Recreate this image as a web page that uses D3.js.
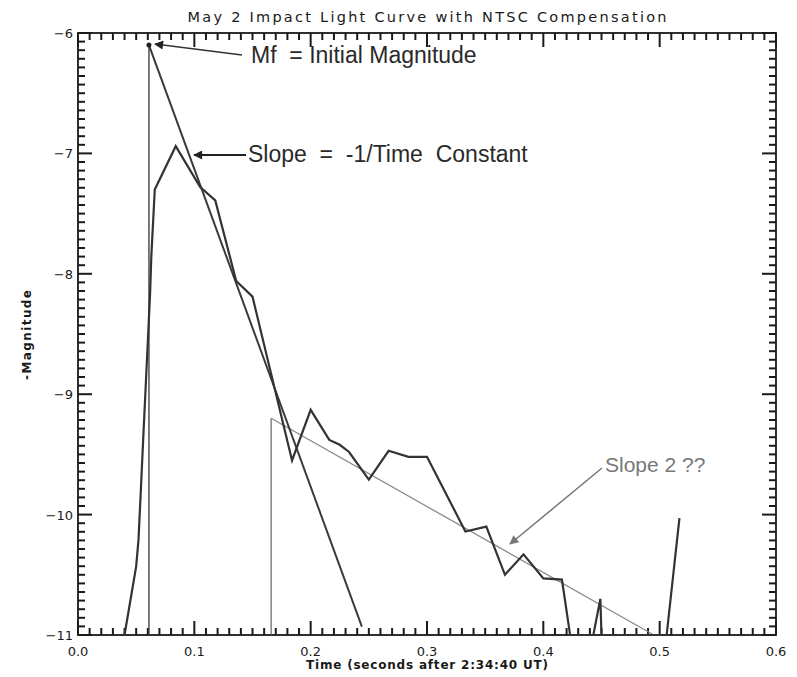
<!DOCTYPE html>
<html>
<head>
<meta charset="utf-8">
<script src="https://d3js.org/d3.v7.min.js"></script>
<style>
  body { margin: 0; background: #fff; }
  text { white-space: pre; }
</style>
</head>
<body>
<div id="chart"></div>
<script>
// light curve (time in s, -magnitude)
const times = [0.040, 0.050, 0.052, 0.054, 0.056, 0.062, 0.063, 0.066, 0.084, 0.105, 0.118, 0.136, 0.150,
  0.184, 0.200, 0.216, 0.225, 0.233, 0.250, 0.267, 0.284, 0.300, 0.333, 0.351, 0.367, 0.383, 0.400,
  0.416, 0.423, 0.443, 0.449, 0.450, 0.506, 0.517];
const mags = [-11.0, -10.43, -10.21, -9.80, -9.38, -8.16, -7.86, -7.30, -6.94, -7.28, -7.39, -8.06, -8.19,
  -9.55, -9.13, -9.38, -9.42, -9.48, -9.71, -9.47, -9.52, -9.52, -10.14, -10.10, -10.50, -10.33, -10.53,
  -10.54, -11.0, -11.0, -10.70, -11.0, -11.0, -10.03];

// first fit: peak Mf and the decay line
const fit1Times = [0.061, 0.244];
const fit1Mags = [-6.10, -10.93];
// second fit
const fit2Times = [0.166, 0.495];
const fit2Mags = [-9.20, -11.0];

const xTicks = [0.0, 0.1, 0.2, 0.3, 0.4, 0.5, 0.6];
const yTicks = [-6, -7, -8, -9, -10, -11];

const title = "May 2 Impact Light Curve with NTSC Compensation";
const xTitle = "Time (seconds after 2:34:40 UT)";
const yTitle = "-Magnitude";

const W = 797, H = 677;
const m = { top: 33, right: 21, bottom: 42, left: 78 };

const svg = d3.select("#chart").append("svg")
  .attr("width", W)
  .attr("height", H);

const x = d3.scaleLinear().domain([0, 0.6]).range([m.left, W - m.right]);
const y = d3.scaleLinear().domain([-11, -6]).range([H - m.bottom, m.top]);

const ink = "#1a1a1a";
const tickFont = "DejaVu Sans, sans-serif";

// frame
svg.append("rect")
  .attr("x", x(0)).attr("y", y(-6))
  .attr("width", x(0.6) - x(0)).attr("height", y(-11) - y(-6))
  .attr("fill", "none").attr("stroke", ink).attr("stroke-width", 1.8);

// minor tick positions
const xMinor = [];
for (let i = 0; i <= 60; i++) xMinor.push(i / 100);
const yMinor = [];
for (let i = 0; i <= 70; i++) yMinor.push(-6 - i / 14);
const isMajorX = d => Math.abs(d * 10 - Math.round(d * 10)) < 1e-6;
const isMajorY = d => Math.abs(d - Math.round(d)) < 1e-6;
const tlen = (major) => major ? 14 : 7;

// inward ticks on all four sides
const tg = svg.append("g");
function tick(x1, y1, x2, y2) {
  tg.append("line")
    .attr("x1", x1).attr("y1", y1).attr("x2", x2).attr("y2", y2)
    .style("stroke", ink).style("stroke-width", "2px");
}
xMinor.forEach(d => {
  const L = tlen(isMajorX(d));
  tick(x(d), y(-11), x(d), y(-11) - L);
  tick(x(d), y(-6), x(d), y(-6) + L);
});
yMinor.forEach(d => {
  const L = tlen(isMajorY(d));
  tick(x(0), y(d), x(0) + L, y(d));
  tick(x(0.6), y(d), x(0.6) - L, y(d));
});

// tick labels
svg.append("g").selectAll("text").data(xTicks).join("text")
  .attr("x", d => x(d)).attr("y", 656)
  .attr("text-anchor", "middle")
  .attr("font-family", tickFont).attr("font-size", 13).attr("fill", ink)
  .text(d3.format(".1f"));
svg.append("g").selectAll("text").data(yTicks).join("text")
  .attr("x", x(0) - 5).attr("y", d => y(d) + 5)
  .attr("text-anchor", "end")
  .attr("font-family", tickFont).attr("font-size", 13).attr("fill", ink)
  .text(d3.format("d"));

const line = d3.line().x(d => x(d[0])).y(d => y(d[1]));

// vertical markers
svg.append("path")
  .attr("d", line([[fit1Times[0], -11], [fit1Times[0], fit1Mags[0]]]))
  .attr("fill", "none").attr("stroke", "#333").attr("stroke-width", 1.3);
svg.append("path")
  .attr("d", line([[fit2Times[0], -11], [fit2Times[0], fit2Mags[0]]]))
  .attr("fill", "none").attr("stroke", "#555").attr("stroke-width", 1.1);

// second fit (grey)
svg.append("path")
  .attr("d", line(d3.zip(fit2Times, fit2Mags)))
  .attr("fill", "none").attr("stroke", "#8a8a8a").attr("stroke-width", 1.3);

// first fit
svg.append("path")
  .attr("d", line(d3.zip(fit1Times, fit1Mags)))
  .attr("fill", "none").attr("stroke", "#3a3a3a").attr("stroke-width", 2);

// light curve
svg.append("path")
  .attr("d", line(d3.zip(times, mags)))
  .attr("fill", "none").attr("stroke", "#333").attr("stroke-width", 2.2)
  .attr("stroke-linejoin", "miter");

// Mf marker
svg.append("circle")
  .attr("cx", x(fit1Times[0])).attr("cy", y(fit1Mags[0])).attr("r", 2.5).attr("fill", "#222");

// titles
svg.append("text")
  .attr("x", (x(0) + x(0.6)) / 2).attr("y", 22)
  .attr("text-anchor", "middle")
  .attr("font-family", tickFont).attr("font-size", 14.5).attr("fill", ink)
  .attr("textLength", 479).attr("lengthAdjust", "spacing")
  .text(title);
svg.append("text")
  .attr("x", (x(0) + x(0.6)) / 2).attr("y", 669)
  .attr("text-anchor", "middle")
  .attr("font-family", tickFont).attr("font-size", 12).attr("font-weight", "bold").attr("fill", ink)
  .attr("textLength", 242).attr("lengthAdjust", "spacing")
  .text(xTitle);
svg.append("text")
  .attr("transform", `translate(31,335) rotate(-90)`)
  .attr("text-anchor", "middle")
  .attr("font-family", tickFont).attr("font-size", 12).attr("font-weight", "bold").attr("fill", ink)
  .attr("textLength", 90).attr("lengthAdjust", "spacing")
  .text(yTitle);

// annotations
const defs = svg.append("defs");
function marker(id, color) {
  defs.append("marker").attr("id", id)
    .attr("viewBox", "0 0 10 10").attr("refX", 9).attr("refY", 5)
    .attr("markerWidth", 12).attr("markerHeight", 9).attr("markerUnits", "userSpaceOnUse")
    .attr("orient", "auto")
    .append("path").attr("d", "M0,0 L10,5 L0,10 Z").attr("fill", color);
}
marker("headDark", "#222");
marker("headGrey", "#777");

const annFont = "Liberation Sans, Arial, sans-serif";
svg.append("line")
  .attr("x1", 242).attr("y1", 55).attr("x2", 155).attr("y2", 44)
  .attr("stroke", "#333").attr("stroke-width", 1.5).attr("marker-end", "url(#headDark)");
svg.append("text")
  .attr("x", 251).attr("y", 63)
  .attr("font-family", annFont).attr("font-size", 23).attr("fill", "#2a2a2a")
  .text("Mf  = Initial Magnitude");

svg.append("line")
  .attr("x1", 246).attr("y1", 155).attr("x2", 194).attr("y2", 155)
  .attr("stroke", "#222").attr("stroke-width", 1.8).attr("marker-end", "url(#headDark)");
svg.append("text")
  .attr("x", 248).attr("y", 162)
  .attr("font-family", annFont).attr("font-size", 23).attr("fill", "#2a2a2a")
  .text("Slope  =  -1/Time  Constant");

svg.append("line")
  .attr("x1", 602).attr("y1", 468).attr("x2", 510).attr("y2", 544)
  .attr("stroke", "#777").attr("stroke-width", 1.5).attr("marker-end", "url(#headGrey)");
svg.append("text")
  .attr("x", 605).attr("y", 472)
  .attr("font-family", annFont).attr("font-size", 21).attr("fill", "#777")
  .text("Slope 2 ??");
</script>
</body>
</html>
